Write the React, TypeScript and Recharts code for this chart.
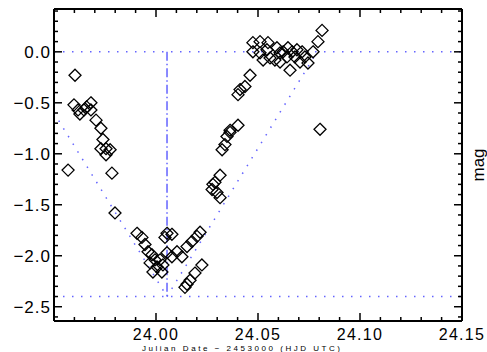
import React from "react";
import { ScatterChart, Scatter, XAxis, YAxis, ReferenceLine } from "recharts";

// Julian date (minus offset) of each observation
const jd = [
  23.9603, 23.9569, 23.9598, 23.9618, 23.9627, 23.9647, 23.966, 23.9681, 23.9681, 23.9706, 23.973, 23.974, 23.973,
  23.9755, 23.9775, 23.9755, 23.9784, 23.9799,
  23.9907, 23.9931, 23.9946, 23.9961, 23.998, 23.9971, 23.9985, 24.0005, 24.002, 24.0029, 24.0034, 23.9995, 24.0054,
  24.0078, 24.0044, 24.0054, 24.0078, 24.0103, 24.0127, 24.0152, 24.0176, 24.0201, 24.0216, 24.0225, 24.0191, 24.0167,
  24.0152, 24.0142,
  24.0314, 24.0289, 24.0279, 24.0275, 24.0299, 24.0314,
  24.0348, 24.0338, 24.0324, 24.0363, 24.0402, 24.0363,
  24.0412, 24.0436, 24.0402, 24.0461,
  24.0475, 24.051, 24.0549, 24.0475, 24.051, 24.0544, 24.0559, 24.0525, 24.0583, 24.0608, 24.0623, 24.0647, 24.0667,
  24.0657, 24.0681, 24.0691, 24.0716, 24.073, 24.0745, 24.0706, 24.077, 24.0608, 24.0642, 24.0593, 24.0814, 24.0794,
  24.0804,
];

// magnitude of each observation
const mag = [
  -0.23, -1.16, -0.52, -0.57, -0.61, -0.57, -0.54, -0.5, -0.57, -0.67, -0.75, -0.86, -0.95, -0.95, -0.96, -1.01, -1.19,
  -1.58,
  -1.78, -1.82, -1.89, -1.96, -1.99, -2.07, -2.16, -2.11, -2.04, -2.16, -2.09, -2.04, -1.78, -1.79, -1.82, -1.97, -2.01,
  -1.96, -2.01, -1.91, -1.86, -1.81, -1.77, -2.09, -2.17, -2.24, -2.28, -2.31,
  -1.21, -1.28, -1.3, -1.35, -1.38, -1.43,
  -0.83, -0.91, -0.96, -0.79, -0.72, -0.77,
  -0.37, -0.34, -0.42, -0.23,
  0.09, 0.1, 0.09, 0.0, -0.01, 0.02, -0.06, -0.08, -0.08, -0.1, 0.0, 0.04, 0.0, -0.18, -0.05, 0.02, 0.0, -0.05, -0.11,
  -0.1, 0.0, -0.01, -0.05, 0.04, 0.21, 0.1, -0.76,
];

const xDomain = [23.95, 24.15];
const yDomain = [-2.64, 0.42];
const xMajorLabels = [24.0, 24.05, 24.1, 24.15];
const xMajorTicks = [23.95, 24.0, 24.05, 24.1, 24.15];
const yMajorLabels = [0.0, -0.5, -1.0, -1.5, -2.0, -2.5];
const xMinorStep = 0.01;
const yMinorStep = 0.1;

// guide lines
const levelTop = 0;
const levelBottom = -2.4;
const minimumJd = 24.0054;
const leftWing = [
  { x: 23.95, y: -0.6 },
  { x: 24.0054, y: -2.4 },
];
const rightWing = [
  { x: 24.0054, y: -2.4 },
  { x: 24.079, y: 0 },
];

const data = jd.map((x, i) => ({ jd: x, mag: mag[i] }));

const xTicks = Array.from({ length: 21 }, (_, i) => +(xDomain[0] + i * xMinorStep).toFixed(2));
const yTicks = Array.from({ length: 31 }, (_, i) => +(-2.6 + i * yMinorStep).toFixed(1));

const near = (arr: number[], v: number) => arr.some((a) => Math.abs(a - v) < 1e-6);

const FONT = "'Liberation Sans', Arial, sans-serif";
const GUIDE = "#6464ff";

const fmtY = (v: number) => {
  const s = Math.abs(v).toFixed(1);
  return v < -1e-9 ? "\u2212" + s : s;
};

const BottomTick = (p: any) => {
  const { x, y, payload } = p;
  const v = payload.value;
  const major = near(xMajorTicks, v);
  return (
    <g>
      <line x1={x} y1={y} x2={x} y2={y - (major ? 8 : 4)} stroke="#000" strokeWidth={1.5} />
      {near(xMajorLabels, v) && (
        <text x={x} y={y + 19} textAnchor="middle" fontFamily={FONT} fontSize={16} letterSpacing={1.3} fill="#000">
          {v.toFixed(2)}
        </text>
      )}
    </g>
  );
};

const TopTick = (p: any) => {
  const { x, y, payload } = p;
  const major = near(xMajorTicks, payload.value);
  return <line x1={x} y1={y} x2={x} y2={y + (major ? 8 : 4)} stroke="#000" strokeWidth={1.5} />;
};

const LeftTick = (p: any) => {
  const { x, y, payload } = p;
  const v = payload.value;
  const major = near(yMajorLabels, v);
  return (
    <g>
      <line x1={x} y1={y} x2={x + (major ? 8 : 4)} y2={y} stroke="#000" strokeWidth={1.5} />
      {major && (
        <text x={x - 3} y={y + 6} textAnchor="end" fontFamily={FONT} fontSize={17} letterSpacing={1} fill="#000">
          {fmtY(v)}
        </text>
      )}
    </g>
  );
};

const RightTick = (p: any) => {
  const { x, y, payload } = p;
  const major = near(yMajorLabels, payload.value);
  return <line x1={x} y1={y} x2={x - (major ? 8 : 4)} y2={y} stroke="#000" strokeWidth={1.5} />;
};

const Diamond = (p: any) => {
  const { cx, cy } = p;
  if (cx == null || cy == null) return null;
  const r = 6;
  return (
    <path
      d={`M${cx},${cy - r}L${cx + r},${cy}L${cx},${cy + r}L${cx - r},${cy}Z`}
      fill="none"
      stroke="#000"
      strokeWidth={1.3}
    />
  );
};

const axisLine = { stroke: "#000", strokeWidth: 2 };

export default function App() {
  return (
    <div style={{ position: "absolute", left: 0, top: 0, width: 487, height: 352, background: "#fff", overflow: "hidden" }}>
      <ScatterChart width={487} height={352} margin={{ top: 8, right: 24, bottom: 1, left: 0 }}>
        <XAxis
          xAxisId="b"
          orientation="bottom"
          type="number"
          dataKey="jd"
          domain={xDomain}
          ticks={xTicks}
          interval={0}
          allowDataOverflow
          height={30}
          tickSize={0}
          tickMargin={0}
          tickLine={false}
          axisLine={axisLine}
          tick={BottomTick}
        />
        <XAxis
          xAxisId="t"
          orientation="top"
          type="number"
          dataKey="jd"
          domain={xDomain}
          ticks={xTicks}
          interval={0}
          allowDataOverflow
          height={1}
          tickSize={0}
          tickMargin={0}
          tickLine={false}
          axisLine={axisLine}
          tick={TopTick}
        />
        <YAxis
          yAxisId="l"
          orientation="left"
          type="number"
          dataKey="mag"
          domain={yDomain}
          ticks={yTicks}
          interval={0}
          allowDataOverflow
          width={54}
          tickSize={0}
          tickMargin={0}
          tickLine={false}
          axisLine={axisLine}
          tick={LeftTick}
        />
        <YAxis
          yAxisId="r"
          orientation="right"
          type="number"
          dataKey="mag"
          domain={yDomain}
          ticks={yTicks}
          interval={0}
          allowDataOverflow
          width={1}
          tickSize={0}
          tickMargin={0}
          tickLine={false}
          axisLine={axisLine}
          tick={RightTick}
        />
        <ReferenceLine xAxisId="b" yAxisId="l" y={levelTop} stroke={GUIDE} strokeWidth={1.5} strokeDasharray="1.5 7.5" />
        <ReferenceLine xAxisId="b" yAxisId="l" y={levelBottom} stroke={GUIDE} strokeWidth={1.5} strokeDasharray="1.5 7.5" />
        <ReferenceLine
          xAxisId="b"
          yAxisId="l"
          segment={[
            { x: minimumJd, y: levelTop },
            { x: minimumJd, y: levelBottom },
          ]}
          stroke={GUIDE}
          strokeWidth={1.5}
          strokeDasharray="9 3 1.5 3"
        />
        <ReferenceLine xAxisId="b" yAxisId="l" segment={leftWing} stroke={GUIDE} strokeWidth={1.5} strokeDasharray="1.5 7.5" />
        <ReferenceLine xAxisId="b" yAxisId="l" segment={rightWing} stroke={GUIDE} strokeWidth={1.5} strokeDasharray="1.5 7.5" />
        <Scatter xAxisId="b" yAxisId="l" data={data} dataKey="mag" isAnimationActive={false} shape={Diamond} />
        <Scatter xAxisId="t" yAxisId="r" data={data} dataKey="mag" isAnimationActive={false} shape={() => null} legendType="none" />
      </ScatterChart>
      <svg width={487} height={352} style={{ position: "absolute", left: 0, top: 0, pointerEvents: "none" }}>
        <text x={142} y={351} fontFamily={FONT} fontSize={8} textLength={198} lengthAdjust="spacing" fill="#000">
          Julian Date − 2453000 (HJD UTC)
        </text>
        <text transform="translate(484,165) rotate(-90)" textAnchor="middle" fontFamily={FONT} fontSize={17} fill="#000">
          mag
        </text>
      </svg>
    </div>
  );
}
